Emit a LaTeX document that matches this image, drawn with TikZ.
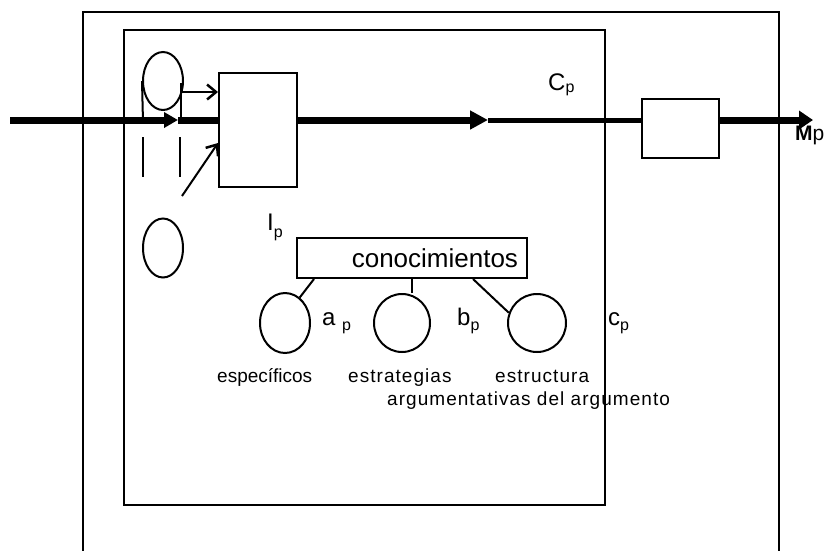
\documentclass[tikz,border=0pt]{standalone}
\usepackage{fontspec}
\setmainfont{Liberation Sans}
\newfontfamily\spacedfont[LetterSpace=5.5]{Liberation Sans}
\usetikzlibrary{shapes.geometric,arrows.meta}
\newcommand\psub[2][5pt]{\raisebox{-#1}{\fontsize{16}{16}\selectfont #2}}
\begin{document}
\begin{tikzpicture}[x=1pt,y=-1pt,
  thinline/.style={line width=2pt},
  boxnode/.style={draw,line width=2pt,inner sep=0pt,rectangle},
  ovalnode/.style={draw,line width=2pt,inner sep=0pt,ellipse},
  bigarrow/.style={line width=7pt,-{Triangle[length=14pt,width=15pt]}},
  smallarrow/.style={line width=2pt,-{Straight Barb[length=9pt,width=15pt,line width=2.5pt]}},
  lab/.style={anchor=base west,inner sep=0pt,font=\fontsize{24}{24}\selectfont},
  txt/.style={anchor=base west,inner sep=0pt,font=\fontsize{19}{19}\selectfont},
  stxt/.style={txt,font=\spacedfont\fontsize{19}{19}\selectfont}]
\useasboundingbox (0,0) rectangle (824,550);
% frames
\draw[thinline] (83,551) -- (83,12) -- (779,12) -- (779,551);
\draw[thinline] (124,30) rectangle (605,505);
% nodes
\node[boxnode,minimum width=78pt,minimum height=114pt] (b1) at (258,130) {};
\node[boxnode,minimum width=77pt,minimum height=59pt] (b2) at (680.5,128.5) {};
\node[ovalnode,minimum width=40pt,minimum height=58pt] (e1) at (163,81) {};
\node[ovalnode,minimum width=40pt,minimum height=59pt] (e2) at (163,248) {};
\node[boxnode,minimum height=40pt,text width=212pt,align=right,inner xsep=9pt,
      font=\fontsize{26}{26}\selectfont] (con) at (412,258) {conocimientos};
\node[ovalnode,minimum width=50pt,minimum height=60pt] (c1) at (285,323) {};
\node[ovalnode,minimum width=56pt,minimum height=58pt] (c2) at (402,323) {};
\node[ovalnode,minimum width=58pt,minimum height=58pt] (c3) at (537,323) {};
% main flow
\coordinate (in) at (10,120);
\coordinate (t1) at (178,120);
\coordinate (t2) at (488,120);
\coordinate (out) at (813,120);
\draw[bigarrow] (in) -- (t1);
\draw[line width=7pt] (t1) -- (t1 -| b1.west);
\draw[bigarrow,-{Triangle[length=18pt,width=18pt]}] (b1.east |- t2) -- (t2);
\draw[line width=5pt] (t2) -- (t2 -| b2.west);
\draw[line width=7pt,-{Triangle[length=14pt,width=18pt]}] (b2.east |- out) -- (out);
% lines around top ellipse
\coordinate (lv1) at (143,122);
\coordinate (rv0) at (181,83);
\coordinate (rv1) at (181,122);
\draw[thinline] (e1.west) -- (lv1);
\draw[thinline] (rv0) -- (rv1);
\coordinate (d1a) at (143,137); \coordinate (d1b) at (143,177);
\coordinate (d2a) at (180,137); \coordinate (d2b) at (180,177);
\draw[thinline] (d1a) -- (d1b);
\draw[thinline] (d2a) -- (d2b);
% small arrows into box 1
\coordinate (s1) at (181,92);
\draw[smallarrow] (s1) -- (s1 -| b1.west);
\coordinate (s2) at (182,196);
\coordinate (s2e) at (218,143);
\draw[smallarrow] (s2) -- (s2e);
% tree connectors
\draw[thinline] ([xshift=18pt]con.south west) -- (c1.60);
\draw[thinline] (con.south -| 412,0) -- (c2.north -| 412,0);
\draw[thinline] ([xshift=-55pt]con.south east) -- (c3.160);
% labels
\node[lab] (lI) at (267,230) {I\psub[7pt]{p}};
\node[lab] (lC) at (548,90) {C\psub[2pt]{p}};
\node[lab,font=\fontsize{21}{21}\selectfont] (lM) at (795,140) {\textbf{M}p};
\node[lab] (la) at (322,325) {a \psub{p}};
\node[lab] (lb) at (457,325) {b\psub{p}};
\node[lab] (lc) at (608,325) {c\psub{p}};
\node[txt] (t_esp) at (217,382) {específicos};
\node[stxt] (t_est) at (348,382) {estrategias};
\node[stxt] (t_str) at (495,382) {estructura};
\node[stxt] (t_arg) at (387,405) {argumentativas del argumento};
\end{tikzpicture}
\end{document}
